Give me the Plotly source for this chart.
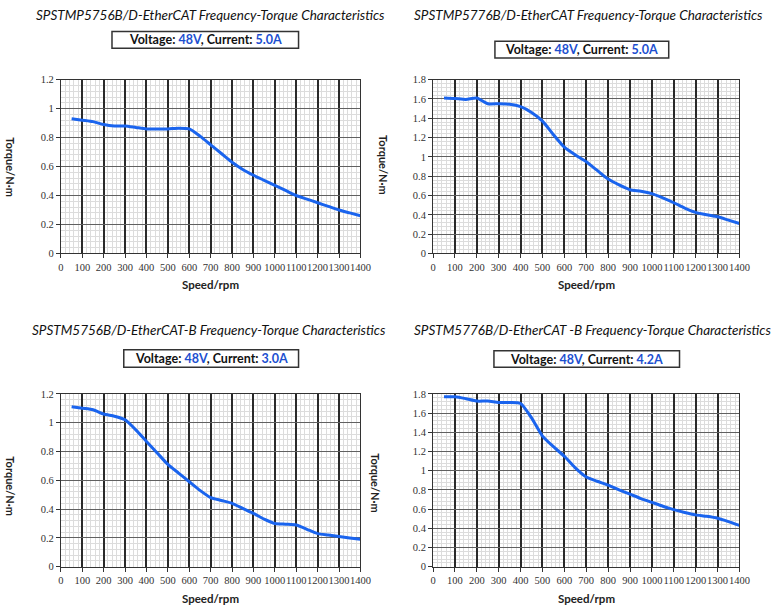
import plotly.graph_objects as go

W, H = 773, 612

speed = [50, 100, 150, 200, 250, 300, 350, 400, 450, 500, 550, 600, 650, 700,
         750, 800, 850, 900, 950, 1000, 1050, 1100, 1150, 1200, 1250, 1300, 1350, 1400]

torque_mp5756 = [0.93, 0.92, 0.91, 0.89, 0.88, 0.88, 0.87, 0.86, 0.86, 0.86, 0.865, 0.86, 0.81, 0.75,
                 0.69, 0.63, 0.58, 0.54, 0.505, 0.47, 0.435, 0.40, 0.375, 0.35, 0.325, 0.30, 0.28, 0.26]
torque_mp5776 = [1.61, 1.605, 1.595, 1.61, 1.55, 1.55, 1.545, 1.52, 1.46, 1.37, 1.23, 1.10, 1.02, 0.95,
                 0.86, 0.77, 0.71, 0.66, 0.645, 0.62, 0.575, 0.525, 0.47, 0.425, 0.40, 0.38, 0.345, 0.31]
torque_m5756 = [1.11, 1.10, 1.09, 1.06, 1.045, 1.02, 0.95, 0.87, 0.79, 0.71, 0.65, 0.59, 0.53, 0.48,
                0.46, 0.44, 0.405, 0.37, 0.33, 0.30, 0.295, 0.29, 0.26, 0.23, 0.22, 0.21, 0.20, 0.19]
torque_m5776 = [1.77, 1.77, 1.75, 1.725, 1.725, 1.71, 1.71, 1.70, 1.55, 1.36, 1.25, 1.15, 1.03, 0.935,
                0.89, 0.85, 0.80, 0.755, 0.71, 0.67, 0.63, 0.595, 0.565, 0.54, 0.525, 0.505, 0.47, 0.43]

titles = ["SPSTMP5756B/D-EtherCAT Frequency-Torque Characteristics",
          "SPSTMP5776B/D-EtherCAT Frequency-Torque Characteristics",
          "SPSTM5756B/D-EtherCAT-B Frequency-Torque Characteristics",
          "SPSTM5776B/D-EtherCAT -B Frequency-Torque Characteristics"]
voltages = ["48V", "48V", "48V", "48V"]
currents = ["5.0A", "5.0A", "3.0A", "4.2A"]
y_max = [1.2, 1.8, 1.2, 1.8]
x_ticks = [0, 100, 200, 300, 400, 500, 600, 700, 800, 900, 1000, 1100, 1200, 1300, 1400]

series = [torque_mp5756, torque_mp5776, torque_m5756, torque_m5776]

panels = [
    dict(area=(59, 364, 76, 253), title=(211, 10), box=(111, 301, 27, 44), ytitle=(8, 165), xtitle=(211, 285)),
    dict(area=(438, 750, 76, 253), title=(596, 10), box=(501, 678, 37, 54), ytitle=(388, 163), xtitle=(594, 285)),
    dict(area=(59, 364, 396, 572), title=(210, 331), box=(123, 301, 351, 369), ytitle=(8, 490), xtitle=(211, 604)),
    dict(area=(438, 750, 396, 572), title=(600, 331), box=(500, 689, 352, 369), ytitle=(380, 487), xtitle=(594, 604)),
]

def px(x):
    return x / W

def py(y):
    return 1 - y / H

SERIF = "Liberation Serif, Times New Roman, DejaVu Serif, serif"
fig = go.Figure()
annotations = []
shapes = []
BLUE_TXT = "#1c4fd0"
LINE = "#1a64ee"

for i, p in enumerate(panels):
    n = "" if i == 0 else str(i + 1)
    x0, x1, y0, y1 = p["area"]
    fig.add_trace(go.Scatter(x=speed, y=series[i], mode="lines",
                             line=dict(color=LINE, width=3, shape="spline", smoothing=0.6),
                             xaxis="x" + n, yaxis="y" + n, showlegend=False, hoverinfo="x+y"))
    ymax = y_max[i]
    fig.layout["xaxis" + n] = dict(
        domain=[px(x0), px(x1)], anchor="y" + n, range=[0, 1400],
        tickvals=x_ticks, ticktext=[str(v) for v in x_ticks], tickangle=0,
        showgrid=True, gridcolor="#2a2a2a", gridwidth=1.6,
        minor=dict(dtick=20, showgrid=True, gridcolor="#dcdcdc", gridwidth=1),
        showline=True, linecolor="#333", linewidth=1, mirror=True,
        ticks="outside", ticklen=4, tickcolor="#333",
        tickfont=dict(family=SERIF, size=10.5, color="#333"),
        zeroline=False, fixedrange=True)
    fig.layout["yaxis" + n] = dict(
        domain=[py(y1), py(y0)], anchor="x" + n, range=[0, ymax],
        dtick=0.2, tickformat="~g",
        showgrid=True, gridcolor="#606060", gridwidth=1.4,
        minor=dict(dtick=0.04, showgrid=True, gridcolor="#dcdcdc", gridwidth=1),
        showline=True, linecolor="#333", linewidth=1, mirror=True,
        ticks="outside", ticklen=4, tickcolor="#333",
        tickfont=dict(family=SERIF, size=10.5, color="#333"),
        zeroline=False, fixedrange=True)

    tx, ty = p["title"]
    annotations.append(dict(text="<i>" + titles[i] + "</i>", x=px(tx), y=py(ty),
                            xref="paper", yref="paper", xanchor="center", yanchor="middle",
                            showarrow=False, font=dict(family="Lato", size=13.5, color="#111")))
    bx0, bx1, by0, by1 = p["box"]
    shapes.append(dict(type="rect", xref="paper", yref="paper", x0=px(bx0), x1=px(bx1),
                       y0=py(by1), y1=py(by0), line=dict(color="#333", width=1.5),
                       fillcolor="white"))
    label = ("<b>Voltage: <span style='color:%s'>%s</span>, Current: "
             "<span style='color:%s'>%s</span></b>") % (BLUE_TXT, voltages[i], BLUE_TXT, currents[i])
    annotations.append(dict(text=label, x=px((bx0 + bx1) / 2), y=py((by0 + by1) / 2),
                            xref="paper", yref="paper", xanchor="center", yanchor="middle",
                            showarrow=False, font=dict(family="Lato", size=12.5, color="#111")))
    yx, yy = p["ytitle"]
    annotations.append(dict(text="<b>Torque/N·m</b>", x=px(yx), y=py(yy), textangle=90,
                            xref="paper", yref="paper", xanchor="center", yanchor="middle",
                            showarrow=False, font=dict(family="Lato", size=11, color="#222")))
    sx, sy = p["xtitle"]
    annotations.append(dict(text="<b>Speed/rpm</b>", x=px(sx), y=py(sy),
                            xref="paper", yref="paper", xanchor="center", yanchor="middle",
                            showarrow=False, font=dict(family="Lato", size=11.5, color="#222")))

fig.update_layout(width=W, height=H, margin=dict(l=0, r=0, t=0, b=0),
                  paper_bgcolor="white", plot_bgcolor="white",
                  annotations=annotations, shapes=shapes, showlegend=False)

fig.write_html("out.html", config={"displayModeBar": False})
